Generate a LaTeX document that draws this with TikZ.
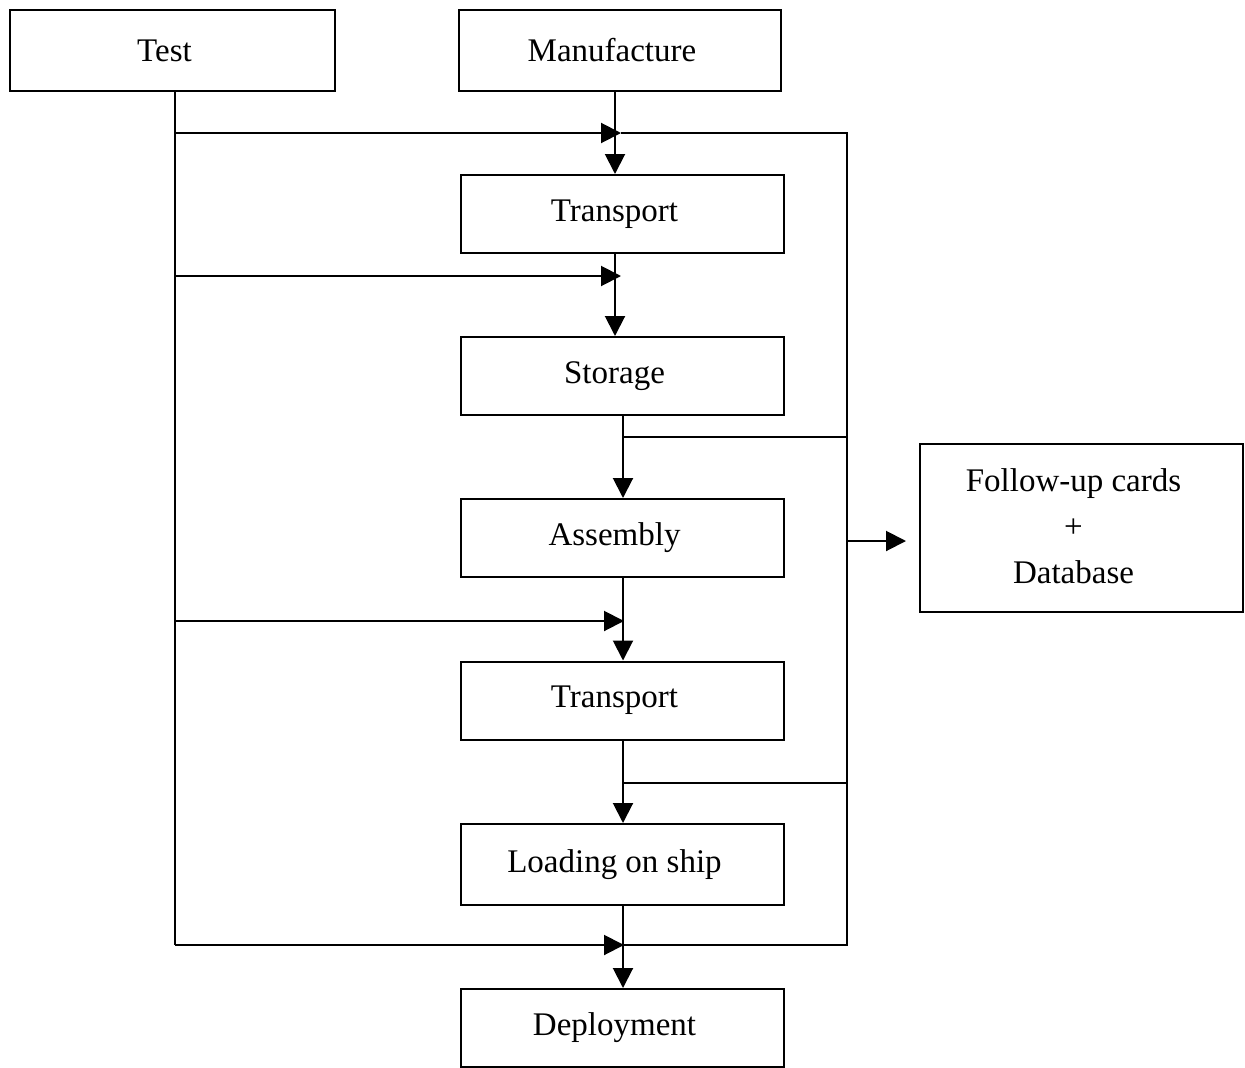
\documentclass[tikz,border=0pt]{standalone}
\usepackage{fontspec}
\setmainfont{Liberation Serif}
\usetikzlibrary{arrows.meta}
\begin{document}
\begin{tikzpicture}[x=1pt,y=-1pt,
 box/.style={draw,line width=2pt,minimum width=323pt,minimum height=78pt,inner sep=0pt,font=\fontsize{33}{46}\selectfont},
 shifted/.style={execute at begin node={\hspace*{-16pt}}},
 ln/.style={line width=2pt},
 arr/.style={ln,-{Triangle[length=20pt,width=20pt]}}]
\useasboundingbox (0,0) rectangle (1245,1068);
% boxes
\node[box,shifted,minimum width=325pt,minimum height=81pt] (test) at (172.5,50.5) {Test};
\node[box,shifted,minimum width=322pt,minimum height=81pt] (manu) at (620,50.5) {Manufacture};
\node[box,shifted] (tr1) at (622.5,214) {Transport};
\node[box,shifted] (stor) at (622.5,376) {Storage};
\node[box,shifted] (asm) at (622.5,538) {Assembly};
\node[box,shifted] (tr2) at (622.5,700.5) {Transport};
\node[box,shifted,minimum height=81pt] (load) at (622.5,864.5) {Loading on ship};
\node[box,shifted] (dep) at (622.5,1028) {Deployment};
\node[box,shifted,minimum height=168pt] (fol) at (1081.5,528) {\begin{tabular}{@{}c@{}}Follow-up cards\\+\\Database\end{tabular}};
% helper coordinates
\coordinate (colA) at (615,0);
\coordinate (colB) at (623,0);
\coordinate (h1) at (175,133);
\coordinate (h2) at (175,276);
\coordinate (h4) at (175,621);
\coordinate (h5) at (175,945);
\coordinate (t1) at (621,133);
\coordinate (t2) at (621,276);
\coordinate (t4) at (624,621);
\coordinate (t5) at (624,945);
\coordinate (r1) at (847,133);
\coordinate (r5) at (847,945);
\coordinate (s3) at (623,437);
\coordinate (r3) at (847,437);
\coordinate (s4) at (623,783);
\coordinate (r4) at (847,783);
\coordinate (rf) at (847,541);
\coordinate (ft) at (906,541);
% vertical flow
\draw[arr] (manu.south -| colA) -- (tr1.north -| colA);
\draw[arr] (tr1.south -| colA) -- (stor.north -| colA);
\draw[arr] (stor.south -| colB) -- (asm.north -| colB);
\draw[arr] (asm.south -| colB) -- (tr2.north -| colB);
\draw[arr] (tr2.south -| colB) -- (load.north -| colB);
\draw[arr] (load.south -| colB) -- (dep.north -| colB);
% test line
\draw[ln] (test.south -| h1) -- (h5);
\draw[arr] (h1) -- (t1);
\draw[arr] (h2) -- (t2);
\draw[arr] (h4) -- (t4);
\draw[arr] (h5) -- (t5);
% right collector
\draw[ln] (t1) -- (r1) -- (r5) -- (t5);
\draw[ln] (s3) -- (r3);
\draw[ln] (s4) -- (r4);
\draw[arr] (rf) -- (ft);
\end{tikzpicture}
\end{document}
